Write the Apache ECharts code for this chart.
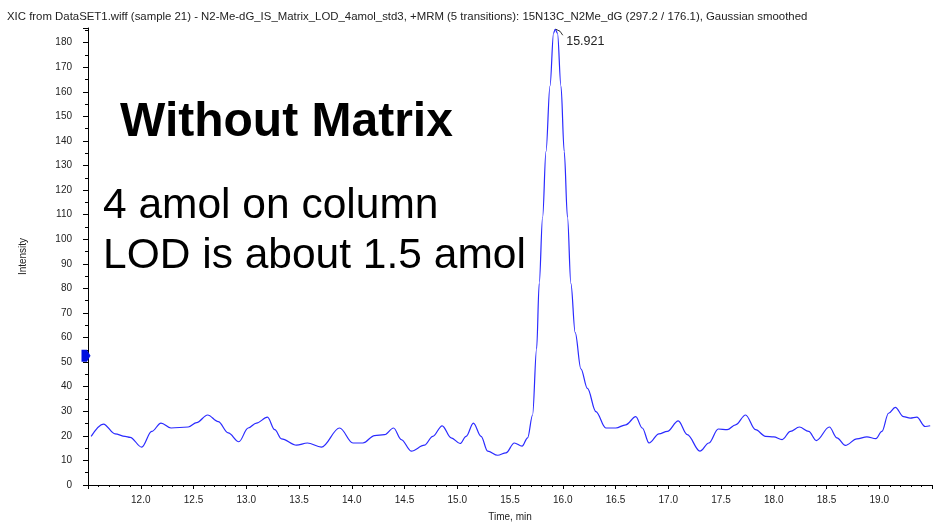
<!DOCTYPE html>
<html>
<head>
<meta charset="utf-8">
<script src="https://cdn.jsdelivr.net/npm/echarts@6/dist/echarts.min.js"></script>
<style>html,body{margin:0;padding:0;background:#fff;}#c{width:935px;height:527px;}</style>
</head>
<body>
<div id="c"></div>
<script>
const headerText = "XIC from DataSET1.wiff (sample 21) - N2-Me-dG_IS_Matrix_LOD_4amol_std3, +MRM (5 transitions): 15N13C_N2Me_dG (297.2 / 176.1), Gaussian smoothed";
const annotationLines = ["Without Matrix", "4 amol on column", "LOD is about 1.5 amol"];
const xAxisName = "Time, min";
const yAxisName = "Intensity";
const peakTime = 15.929;
const peakIntensity = 185.5;
const peakLabel = "15.921";
const markerIntensity = 52.6;

const times = [11.530,11.646,11.757,11.851,11.899,12.009,12.104,12.192,12.287,12.450,12.530,12.634,12.734,12.829,12.930,13.018,13.097,13.201,13.270,13.334,13.476,13.580,13.712,13.885,14.011,14.106,14.216,14.311,14.396,14.469,14.564,14.689,14.768,14.857,14.942,15.027,15.084,15.153,15.226,15.288,15.383,15.462,15.541,15.614,15.667,15.714,15.752,15.777,15.809,15.841,15.879,15.913,15.929,15.950,15.983,16.014,16.045,16.077,16.118,16.172,16.234,16.314,16.408,16.503,16.597,16.692,16.754,16.818,16.912,16.991,17.095,17.180,17.300,17.385,17.474,17.559,17.638,17.733,17.827,17.922,18.000,18.079,18.158,18.243,18.331,18.404,18.527,18.599,18.679,18.788,18.883,18.968,19.025,19.088,19.152,19.230,19.294,19.356,19.435,19.483];
const intensities = [19.8,24.8,20.8,19.8,19.4,15.4,21.8,25.2,23.2,23.6,25.4,28.5,25.8,21.2,17.6,23.2,25.2,27.6,22.5,18.8,16.2,17.1,15.4,23.2,17.1,17.1,20.1,20.5,23.2,18.5,13.8,16.2,19.8,24.1,19.2,16.9,19.8,25.2,19.8,13.8,12.1,13.1,17.1,15.8,19.2,28.5,55.3,82.1,108.9,135.7,162.4,183.9,185.5,183.9,162.4,135.7,108.9,82.1,62.0,47.3,39.3,29.9,23.2,23.2,24.5,27.8,23.2,17.1,20.8,21.8,26.1,20.5,13.8,17.1,22.8,22.5,24.5,28.5,22.5,19.8,19.6,18.5,21.8,23.6,21.8,18.1,23.6,19.2,16.1,18.8,19.6,18.9,21.8,29.2,31.6,27.8,27.2,27.6,23.8,24.1];

const xMin = 11.5, xMax = 19.5, xInterval = 0.5;
const yMin = 0, yMax = 186, yInterval = 10;

const seriesData = times.map((t, i) => [t, intensities[i]]);

const chart = echarts.init(document.getElementById('c'), null, {renderer: 'canvas'});
const fam = '"Liberation Sans", Arial, sans-serif';
chart.setOption({
  animation: false,
  backgroundColor: '#ffffff',
  title: [
    {text: headerText, left: 2, top: 6, textStyle: {fontFamily: fam, fontSize: 11.4, fontWeight: 'normal', color: '#222'}},
    {text: annotationLines[0], left: 115, top: 94, textStyle: {fontFamily: fam, fontSize: 48, fontWeight: 'bold', color: '#000'}},
    {text: annotationLines[1], left: 98, top: 180, textStyle: {fontFamily: fam, fontSize: 42.5, fontWeight: 'normal', color: '#000'}},
    {text: annotationLines[2], left: 98, top: 230, textStyle: {fontFamily: fam, fontSize: 42.5, fontWeight: 'normal', color: '#000'}}
  ],
  grid: {left: 88, right: 1, top: 28, bottom: 36, containLabel: false},
  xAxis: {
    type: 'value', min: xMin, max: xMax, interval: xInterval,
    name: xAxisName, nameLocation: 'middle', nameGap: 27,
    nameTextStyle: {fontFamily: fam, fontSize: 10, color: '#222'},
    axisLine: {show: true, onZero: false, lineStyle: {color: '#000', width: 1}},
    axisTick: {show: true, length: 4, lineStyle: {color: '#000'}},
    minorTick: {show: true, splitNumber: 5, length: 2, lineStyle: {color: '#000'}},
    splitLine: {show: false},
    axisLabel: {
      fontFamily: fam, fontSize: 10, color: '#222', margin: 10,
      formatter: v => (v < 11.9 || v > 19.1) ? '' : v.toFixed(1)
    }
  },
  yAxis: {
    type: 'value', min: yMin, max: yMax, interval: yInterval,
    name: yAxisName, nameLocation: 'middle', nameGap: 60, nameRotate: 90,
    nameTextStyle: {fontFamily: fam, fontSize: 10, color: '#222'},
    axisLine: {show: true, lineStyle: {color: '#000', width: 1}},
    axisTick: {show: true, length: 5, lineStyle: {color: '#000'}},
    minorTick: {show: true, splitNumber: 2, length: 3, lineStyle: {color: '#000'}},
    splitLine: {show: false},
    axisLabel: {
      fontFamily: fam, fontSize: 10, color: '#222', margin: 16,
      formatter: v => (Math.abs(v % 10) < 1e-6) ? String(v) : ''
    }
  },
  series: [{
    type: 'line',
    data: seriesData,
    showSymbol: false,
    smooth: 0.35,
    smoothMonotone: 'x',
    lineStyle: {color: '#2a2aff', width: 1.2},
    clip: false,
    markPoint: {
      silent: true,
      data: [
        {
          coord: [peakTime, peakIntensity],
          symbol: 'path://M0,0 Q5,1 7,6',
          symbolSize: [7, 6],
          symbolOffset: [4, 3],
          itemStyle: {color: 'rgba(0,0,0,0)', borderColor: '#000', borderWidth: 0.8},
          label: {show: true, formatter: peakLabel, position: 'right', offset: [-2, 9], fontFamily: fam, fontSize: 12.5, color: '#222'}
        },
        {
          coord: [xMin, markerIntensity],
          symbol: 'path://M0,0 L6,0 L10,6 L6,12 L0,12 Z',
          symbolSize: [9, 12],
          symbolOffset: [-2, 0],
          itemStyle: {color: '#0010e0'},
          label: {show: false}
        }
      ]
    }
  }]
});
</script>
</body>
</html>
